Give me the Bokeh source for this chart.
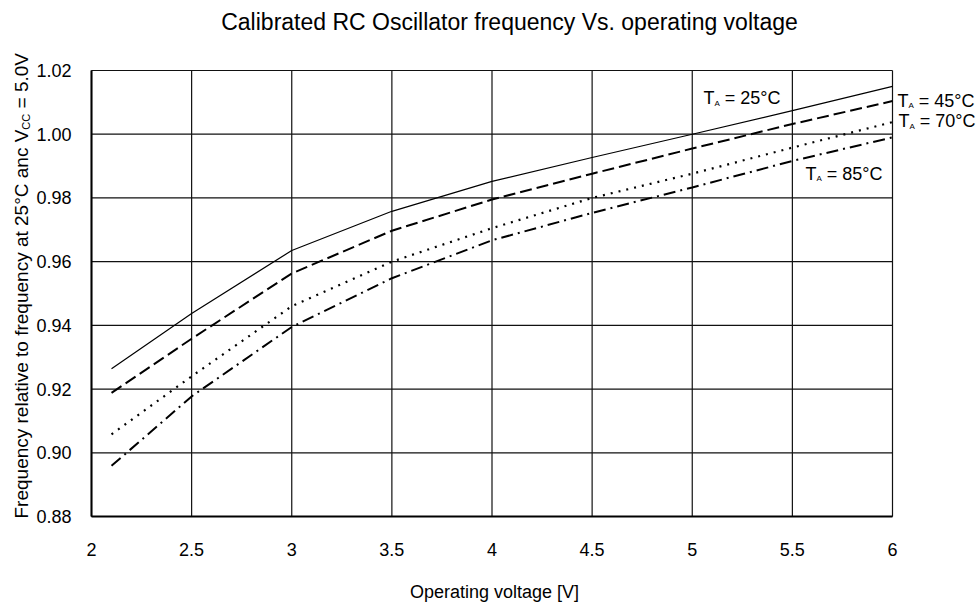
import math
from bokeh.plotting import figure
from bokeh.models import Label, FixedTicker, Range1d
from bokeh.embed import file_html
from bokeh.resources import INLINE

# ---------------- data ----------------
voltage = [2.1, 2.5, 3.0, 3.5, 4.0, 4.5, 5.0, 5.5, 6.0]
freq_25c = [0.9264, 0.9437, 0.9635, 0.9758, 0.9852, 0.9927, 1.0000, 1.0074, 1.0150]
freq_45c = [0.9188, 0.9358, 0.9563, 0.9697, 0.9795, 0.9876, 0.9955, 1.0032, 1.0104]
freq_70c = [0.9058, 0.9240, 0.9460, 0.9600, 0.9705, 0.9800, 0.9876, 0.9958, 1.0038]
freq_85c = [0.8959, 0.9177, 0.9395, 0.9548, 0.9667, 0.9753, 0.9833, 0.9916, 0.9990]

x_ticks = [2.0, 2.5, 3.0, 3.5, 4.0, 4.5, 5.0, 5.5, 6.0]
x_tick_labels = ["2", "2.5", "3", "3.5", "4", "4.5", "5", "5.5", "6"]
y_ticks = [0.88, 0.90, 0.92, 0.94, 0.96, 0.98, 1.00, 1.02]
y_tick_labels = ["0.88", "0.90", "0.92", "0.94", "0.96", "0.98", "1.00", "1.02"]

title_text = "Calibrated RC Oscillator frequency Vs. operating voltage"
x_label_text = "Operating voltage [V]"
y_label_main = "Frequency relative to frequency at 25°C anc V"
y_label_sub = "CC"
y_label_tail = "= 5.0V"
series_temps = ["25°C", "45°C", "70°C", "85°C"]

# ---------------- layout ----------------
FONT = "Liberation Sans"
W, H = 980, 603
L, R, T, B = 91, 88, 70, 87          # pixel margins around the data area
X0, X1 = 2.0, 6.0
Y0, Y1 = 0.88, 1.02
FW = W - L - R
FH = H - T - B
PX = (X1 - X0) / FW   # data units per pixel (x)
PY = (Y1 - Y0) / FH   # data units per pixel (y)


def sx(px):   # page pixel x -> data x
    return X0 + (px - L) * PX


def sy(py):   # page pixel y -> data y
    return Y0 + ((H - B) - py) * PY


p = figure(width=W, height=H,
           x_range=Range1d(X0 - L * PX, X1 + R * PX),
           y_range=Range1d(Y0 - B * PY, Y1 + T * PY),
           output_backend="svg", toolbar_location=None,
           min_border_left=0, min_border_right=0, min_border_top=0, min_border_bottom=0)
p.title.visible = False
p.background_fill_color = "white"
p.border_fill_color = "white"
p.outline_line_color = None
p.grid.visible = False

# ---------------- grid (inside the data area only) ----------------
GRID = "#111111"
p.segment(x0=x_ticks, y0=Y0, x1=x_ticks, y1=Y1, line_color=GRID, line_width=1.2)
p.segment(x0=X0, y0=y_ticks, x1=X1, y1=y_ticks, line_color=GRID, line_width=1.2)

for ax in (p.xaxis[0], p.yaxis[0]):
    ax.major_tick_out = 0
    ax.major_tick_in = 0
    ax.minor_tick_out = 0
    ax.minor_tick_in = 0
    ax.axis_line_color = "black"
    ax.axis_line_width = 2
    ax.major_label_text_font = FONT
    ax.major_label_text_font_size = "18px"
    ax.major_label_text_color = "black"

p.xaxis.fixed_location = Y0
p.yaxis.fixed_location = X0
p.xaxis.bounds = (X0, X1)
p.yaxis.bounds = (Y0, Y1)
p.xaxis.ticker = FixedTicker(ticks=x_ticks)
p.yaxis.ticker = FixedTicker(ticks=y_ticks)
p.xaxis.major_label_overrides = {t: s for t, s in zip(x_ticks, x_tick_labels)}
p.yaxis.major_label_overrides = {t: s for t, s in zip(y_ticks, y_tick_labels)}
p.xaxis.major_label_standoff = 26
p.yaxis.major_label_standoff = 20

# ---------------- curves ----------------
p.line(voltage, freq_25c, line_color="black", line_width=1.2)
p.line(voltage, freq_45c, line_color="black", line_width=2.0, line_dash="12 5")
p.line(voltage, freq_70c, line_color="black", line_width=2.2, line_dash="2 6")
p.line(voltage, freq_85c, line_color="black", line_width=2.0, line_dash="12 5 2 5")


def lab(x, y, text, size, angle=0.0, align="left"):
    p.add_layout(Label(x=x, y=y, text=text, text_font=FONT,
                       text_font_size=f"{size}px", text_color="black",
                       angle=angle, text_align=align, text_baseline="middle"))


# title and x label (anchors at the vertical centre of the capitals)
lab(sx(509), sy(21), title_text, 23, align="center")
lab(sx(494), sy(591), x_label_text, 18, align="center")

# rotated y label with subscript
YF = 19
w_main = 20.465 * YF
y_start = 518
lab(sx(20.5), sy(y_start), y_label_main, YF, angle=math.pi / 2)
lab(sx(25), sy(y_start - w_main), y_label_sub, 11, angle=math.pi / 2)
lab(sx(20.5), sy(y_start - w_main - 1.444 * 11 - 0.278 * YF), y_label_tail, YF, angle=math.pi / 2)

# series annotations  T_A = xx°C  (left edge, centre of capitals, in page pixels)
ann_pos = [(703, 97.5), (897, 100), (898, 120.5), (805, 173)]
AF = 18
for (px_, py_), temp in zip(ann_pos, series_temps):
    lab(sx(px_), sy(py_), "T", AF)
    lab(sx(px_ + 0.611 * AF), sy(py_ + 5), "A", 8)
    lab(sx(px_ + 0.611 * AF + 0.667 * 8 + 0.278 * AF), sy(py_), "= " + temp, AF)

open("out.html", "w").write(file_html(p, INLINE))
